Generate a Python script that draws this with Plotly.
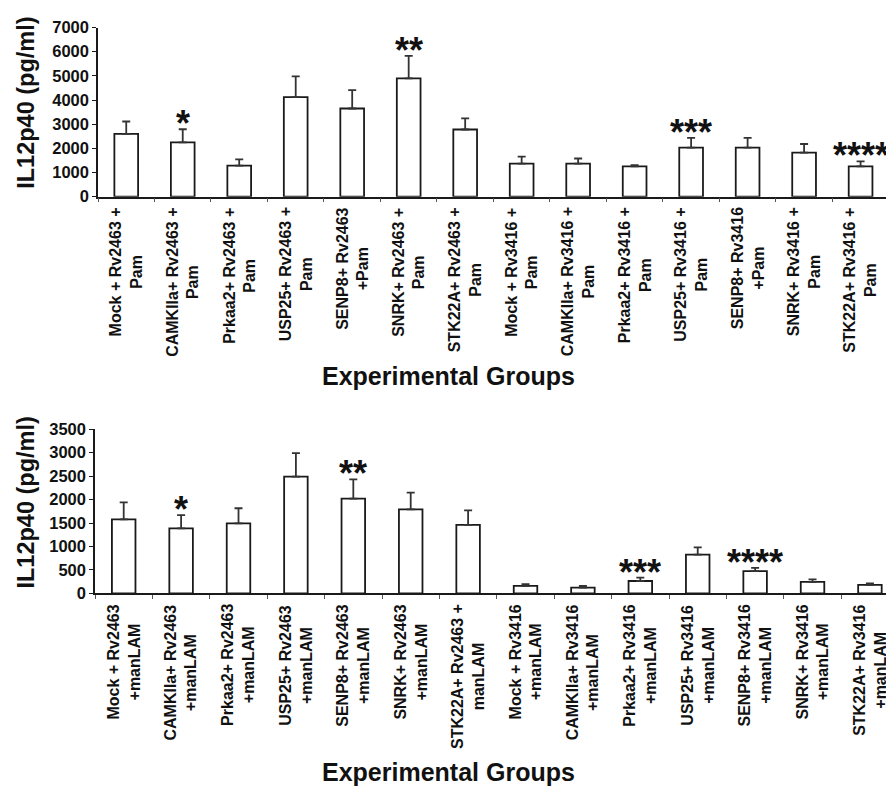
import plotly.graph_objects as go

# ---------------- data ----------------
groups_pam = [
    "Mock + Rv2463 +<br>Pam", "CAMKIIa+ Rv2463 +<br>Pam", "Prkaa2+ Rv2463 +<br>Pam",
    "USP25+ Rv2463 +<br>Pam", "SENP8+ Rv2463<br>+Pam", "SNRK+ Rv2463 +<br>Pam",
    "STK22A+ Rv2463 +<br>Pam", "Mock + Rv3416 +<br>Pam", "CAMKIIa+ Rv3416 +<br>Pam",
    "Prkaa2+ Rv3416 +<br>Pam", "USP25+ Rv3416 +<br>Pam", "SENP8+ Rv3416<br>+Pam",
    "SNRK+ Rv3416 +<br>Pam", "STK22A+ Rv3416 +<br>Pam",
]
il12_pam = [2600, 2250, 1280, 4120, 3650, 4900, 2780, 1370, 1370, 1250, 2030, 2030, 1820, 1250]
err_pam = [510, 540, 260, 860, 760, 930, 460, 290, 210, 50, 400, 400, 360, 210]
stars_pam = {1: "*", 5: "**", 10: "***", 13: "****"}

groups_lam = [
    "Mock + Rv2463<br>+manLAM", "CAMKIIa+ Rv2463<br>+manLAM", "Prkaa2+ Rv2463<br>+manLAM",
    "USP25+ Rv2463<br>+manLAM", "SENP8+ Rv2463<br>+manLAM", "SNRK+ Rv2463<br>+manLAM",
    "STK22A+ Rv2463 +<br>manLAM", "Mock + Rv3416<br>+manLAM", "CAMKIIa+ Rv3416<br>+manLAM",
    "Prkaa2+ Rv3416<br>+manLAM", "USP25+ Rv3416<br>+manLAM", "SENP8+ Rv3416<br>+manLAM",
    "SNRK+ Rv3416<br>+manLAM", "STK22A+ Rv3416<br>+manLAM",
]
il12_lam = [1580, 1385, 1495, 2490, 2020, 1790, 1460, 160, 125, 265, 825, 475, 245, 180]
err_lam = [360, 285, 320, 500, 410, 360, 310, 35, 35, 70, 155, 70, 55, 35]
stars_lam = {1: "*", 4: "**", 9: "***", 11: "****"}

y_title = "IL12p40 (pg/ml)"
x_title = "Experimental Groups"

# ---------------- figure ----------------
W, H = 886, 792
FONT = "Liberation Sans, Arial, sans-serif"

fig = go.Figure()


def add_bars(x, y, e, xa, ya, w):
    fig.add_trace(go.Bar(
        x=x, y=y, xaxis=xa, yaxis=ya, width=w,
        marker=dict(color="white", line=dict(color="#1a1a1a", width=1.8)),
        error_y=dict(type="data", symmetric=False, array=e, arrayminus=[0] * len(e),
                     color="#333333", thickness=1.8, width=4),
        showlegend=False, hoverinfo="skip",
    ))


add_bars(groups_pam, il12_pam, err_pam, "x", "y", 0.42)
add_bars(groups_lam, il12_lam, err_lam, "x2", "y2", 0.41)

x_common = dict(
    type="category", showline=True, linecolor="#1a1a1a", linewidth=1.5,
    ticks="outside", tickson="boundaries", ticklen=4, tickcolor="#555555",
    showticklabels=False, showgrid=False, zeroline=False, fixedrange=True,
)
y_common = dict(
    showline=True, linecolor="#1a1a1a", linewidth=1.5, ticks="outside", ticklen=4,
    tickcolor="#1a1a1a", showgrid=False, zeroline=False,
    tickfont=dict(family=FONT, size=16.5, color="#111111", weight="bold"),
)

fig.update_layout(
    width=W, height=H, margin=dict(l=0, r=0, t=0, b=0),
    paper_bgcolor="white", plot_bgcolor="white",
    xaxis=dict(domain=[98 / W, 1], anchor="y", range=[-0.5, 13.45], **x_common),
    yaxis=dict(domain=[1 - 192 / H, 1 - 19 / H], anchor="x", range=[0, 7000], dtick=1000, **y_common),
    xaxis2=dict(domain=[95 / W, 1], anchor="y2", range=[-0.5, 13.28], **x_common),
    yaxis2=dict(domain=[1 - 598 / H, 1 - 430 / H], anchor="x2", range=[0, 3500], dtick=500, **y_common),
)

lab_font = dict(family=FONT, size=16, color="#111111", weight="bold")
star_font = dict(family=FONT, size=36, color="#111111", weight="bold")

annotations = []
for groups, xa, ya in ((groups_pam, "x", "y"), (groups_lam, "x2", "y2")):
    for g in groups:
        annotations.append(dict(
            x=g, xref=xa, y=0, yref=f"{ya} domain", yanchor="top", xanchor="center",
            yshift=-9, text=g, textangle=-90, align="center", showarrow=False, font=lab_font,
        ))

for groups, vals, errs, stars, xa, ya in (
    (groups_pam, il12_pam, err_pam, stars_pam, "x", "y"),
    (groups_lam, il12_lam, err_lam, stars_lam, "x2", "y2"),
):
    for i, s in stars.items():
        annotations.append(dict(
            x=groups[i], xref=xa, y=vals[i] + errs[i], yref=ya, yanchor="bottom",
            xanchor="center", yshift=-17, text=s, showarrow=False, font=star_font,
        ))

title_font = dict(family=FONT, size=25, color="#111111", weight="bold")
ytitle_font = dict(family=FONT, size=23.5, color="#111111", weight="bold")
for yc, ty in ((96, 376), (505, 781)):
    annotations.append(dict(
        x=26 / W, xref="paper", y=1 - yc / H, yref="paper", xanchor="center", yanchor="middle",
        text=y_title, textangle=-90, showarrow=False, font=ytitle_font,
    ))
    annotations.append(dict(
        x=448 / W, xref="paper", y=1 - ty / H, yref="paper", xanchor="center", yanchor="middle",
        text=x_title, showarrow=False, font=title_font,
    ))

fig.update_layout(annotations=annotations)
fig.write_html(
    "out.html",
    config={"displayModeBar": False},
    post_script="document.body.style.margin='0';document.body.style.overflow='hidden';",
)
